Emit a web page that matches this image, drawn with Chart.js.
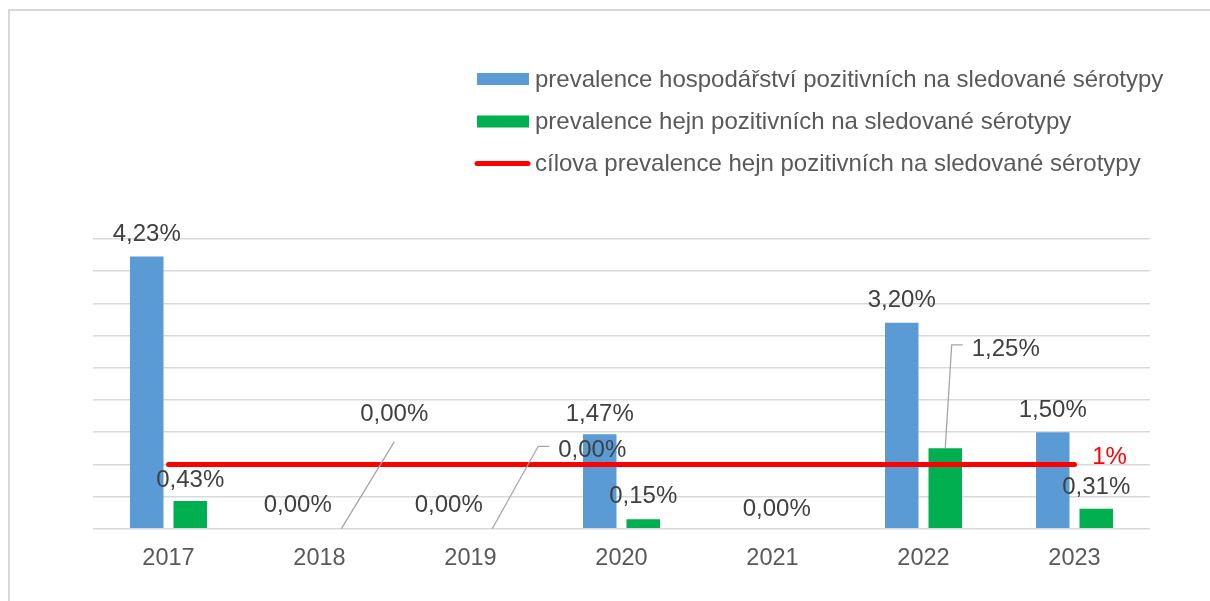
<!DOCTYPE html>
<html>
<head>
<meta charset="utf-8">
<script src="https://cdn.jsdelivr.net/npm/chart.js@4/dist/chart.umd.min.js"></script>
<style>
  html, body { margin: 0; padding: 0; background: #fff; }
  #wrap { width: 1210px; height: 601px; position: relative; }
</style>
</head>
<body>
<div id="wrap"><canvas id="chart"></canvas></div>
<script>
const years = ['2017', '2018', '2019', '2020', '2021', '2022', '2023'];
const farmPrevalence = [4.23, 0, 0, 1.47, 0, 3.20, 1.50];
const flockPrevalence = [0.43, 0, 0, 0.15, 0, 1.25, 0.31];
const targetPrevalence = [1, 1, 1, 1, 1, 1, 1];
const seriesNames = [
  'prevalence hospodářství pozitivních na sledované sérotypy',
  'prevalence hejn pozitivních na sledované sérotypy',
  'cílova prevalence hejn pozitivních na sledované sérotypy'
];

// label offsets from the top of each bar [dx, dy, leader]
const farmLabelShift = [[0, -24], [0, -25], [0, -25], [0, -22], null, [0, -24], [0, -24]];
const flockLabelShift = [[0, -23], [53, -116, 'below'], [100, -80, 'elbow'], [0, -25], [-17.5, -21], [60.5, -101, 'elbow'], [0, -23]];

const FONT = '24px "Liberation Sans", Arial, sans-serif';

const fmt = v => v.toFixed(2).replace('.', ',') + '%';

const frame = {
  id: 'frame',
  beforeDraw(chart) {
    const ctx = chart.ctx;
    ctx.save();
    ctx.strokeStyle = '#d9d9d9';
    ctx.lineWidth = 2;
    ctx.strokeRect(9, 10, 1400, 800);
    ctx.restore();
  }
};

const valueLabels = {
  id: 'valueLabels',
  afterDatasetsDraw(chart) {
    const ctx = chart.ctx;
    ctx.save();
    ctx.font = FONT;
    ctx.textAlign = 'center';
    ctx.textBaseline = 'middle';
    [0, 1].forEach(di => {
      const ds = chart.data.datasets[di];
      chart.getDatasetMeta(di).data.forEach((bar, i) => {
        const s = ds.labelShift[i];
        if (!s) return;
        const text = fmt(ds.data[i]);
        const lx = bar.x + s[0], ly = bar.y + s[1];
        if (s[2]) {
          ctx.strokeStyle = '#a6a6a6';
          ctx.lineWidth = 1.3;
          ctx.beginPath();
          ctx.moveTo(bar.x, bar.y);
          if (s[2] === 'below') {
            ctx.lineTo(lx, ly + 29);
          } else {
            const left = lx - ctx.measureText(text).width / 2;
            ctx.lineTo(left - 20, ly - 2.5);
            ctx.lineTo(left - 9, ly - 2.5);
          }
          ctx.stroke();
        }
        ctx.fillStyle = '#404040';
        ctx.fillText(text, lx, ly + 2);
      });
    });
    const lineMeta = chart.getDatasetMeta(2).data;
    const last = lineMeta[lineMeta.length - 1];
    ctx.fillStyle = '#ff0000';
    ctx.fillText(targetPrevalence[targetPrevalence.length - 1] + '%', last.x + 35, last.y - 7);
    ctx.restore();
  }
};

const sideLegend = {
  id: 'sideLegend',
  afterDraw(chart) {
    const ctx = chart.ctx;
    const rows = [79, 121.5, 163.5];
    ctx.save();
    ctx.font = FONT;
    ctx.textBaseline = 'middle';
    ctx.textAlign = 'left';
    chart.data.datasets.forEach((ds, i) => {
      const y = rows[i];
      if (ds.type === 'line') {
        ctx.strokeStyle = ds.borderColor;
        ctx.lineWidth = 5;
        ctx.lineCap = 'round';
        ctx.beginPath();
        ctx.moveTo(477, y);
        ctx.lineTo(528, y);
        ctx.stroke();
      } else {
        ctx.fillStyle = ds.backgroundColor;
        ctx.fillRect(477, y - 6, 52, 12);
      }
      ctx.fillStyle = '#595959';
      ctx.fillText(ds.label, 535, y + 1);
    });
    ctx.restore();
  }
};

new Chart(document.getElementById('chart'), {
  type: 'bar',
  data: {
    labels: years,
    datasets: [
      {
        label: seriesNames[0],
        data: farmPrevalence,
        backgroundColor: '#5b9bd5',
        labelShift: farmLabelShift,
        categoryPercentage: 0.576,
        barPercentage: 0.77,
        order: 2
      },
      {
        label: seriesNames[1],
        data: flockPrevalence,
        backgroundColor: '#00b050',
        labelShift: flockLabelShift,
        categoryPercentage: 0.576,
        barPercentage: 0.77,
        order: 2
      },
      {
        type: 'line',
        label: seriesNames[2],
        data: targetPrevalence,
        borderColor: '#ff0000',
        backgroundColor: '#ff0000',
        borderWidth: 5,
        borderCapStyle: 'round',
        pointRadius: 0,
        order: 1
      }
    ]
  },
  options: {
    responsive: true,
    maintainAspectRatio: false,
    animation: false,
    layout: { padding: { left: 93, right: 60, top: 239, bottom: 20 } },
    plugins: {
      legend: { display: false },
      tooltip: { enabled: false }
    },
    scales: {
      x: {
        grid: { display: false },
        border: { display: false },
        ticks: { color: '#595959', font: { family: '"Liberation Sans", Arial, sans-serif', size: 23.5 }, padding: 8 }
      },
      y: {
        min: 0,
        max: 4.5,
        ticks: { display: false, stepSize: 0.5 },
        grid: { color: '#d9d9d9', lineWidth: 1.5, drawTicks: false },
        border: { display: false }
      }
    }
  },
  plugins: [frame, valueLabels, sideLegend]
});
</script>
</body>
</html>
